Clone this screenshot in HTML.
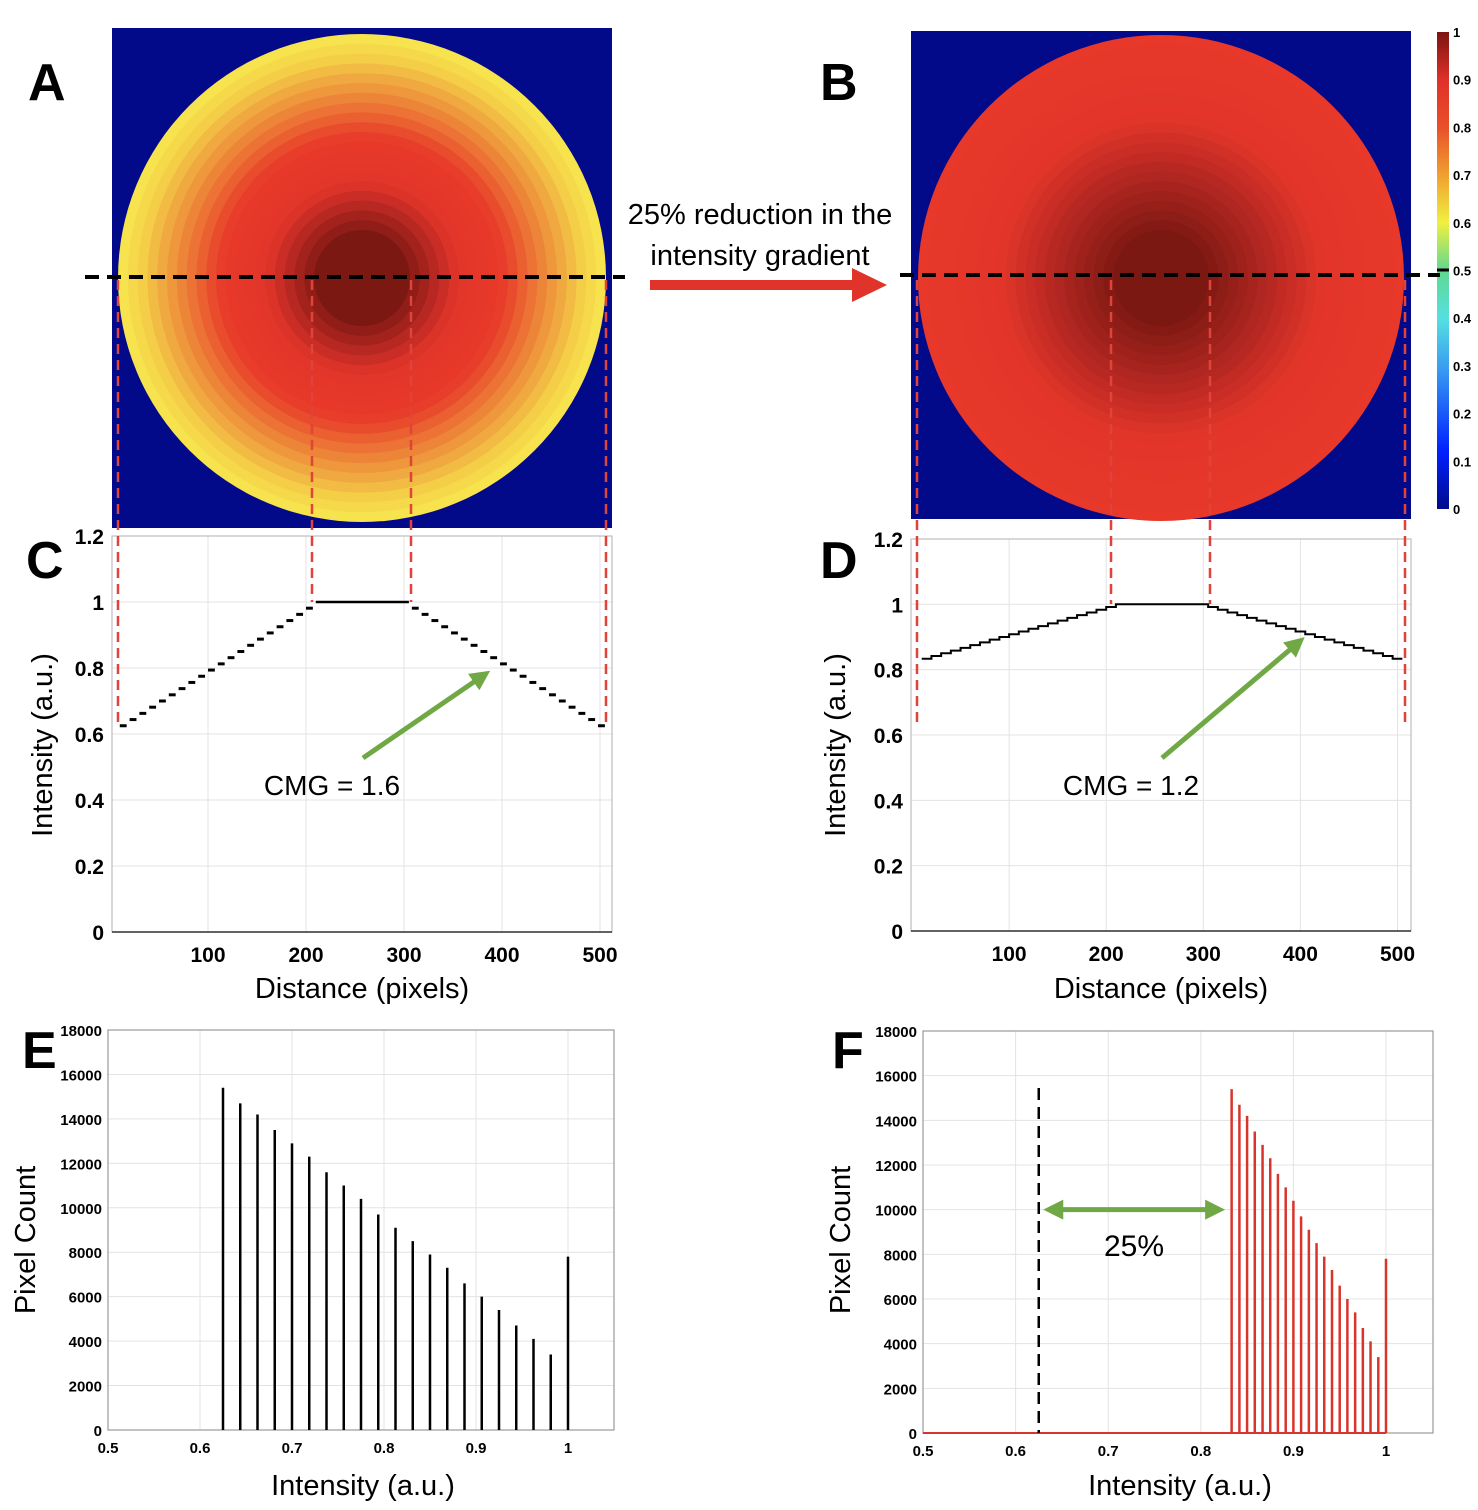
<!DOCTYPE html>
<html><head><meta charset="utf-8"><style>
html,body{margin:0;padding:0;background:#fff;}
svg{display:block;font-family:"Liberation Sans",sans-serif;}
</style></head><body>
<svg id="fig" width="1478" height="1510" viewBox="0 0 1478 1510" xmlns="http://www.w3.org/2000/svg">
<defs>
<linearGradient id="jet" x1="0" y1="1" x2="0" y2="0">
<stop offset="0" stop-color="#000a8a"/><stop offset="0.12" stop-color="#0020ff"/><stop offset="0.3" stop-color="#3aa0f0"/><stop offset="0.4" stop-color="#55e0e0"/><stop offset="0.5" stop-color="#60d890"/><stop offset="0.6" stop-color="#f0f040"/><stop offset="0.7" stop-color="#f0a030"/><stop offset="0.8" stop-color="#e8502a"/><stop offset="0.9" stop-color="#e0302a"/><stop offset="1" stop-color="#7c1410"/>
</linearGradient>
<marker id="garrow" markerWidth="4" markerHeight="4" refX="2.5" refY="2" orient="auto" markerUnits="strokeWidth"><path d="M0,0 L4,2 L0,4 Z" fill="#70a845"/></marker>
<marker id="garrowS" markerWidth="4" markerHeight="4" refX="1.5" refY="2" orient="auto" markerUnits="strokeWidth"><path d="M4,0 L0,2 L4,4 Z" fill="#70a845"/></marker>
</defs>
</svg>
<script>
// ---- data ----
const cLevels = [0.625,0.64375,0.6625,0.68125,0.7,0.71875,0.7375,0.75625,0.775,0.79375,0.8125,0.83125,0.85,0.86875,0.8875,0.90625,0.925,0.94375,0.9625,0.98125,1.0];
const dLevels = [0.8333,0.8417,0.85,0.8583,0.8667,0.875,0.8833,0.8917,0.9,0.9083,0.9167,0.925,0.9333,0.9417,0.95,0.9583,0.9667,0.975,0.9833,0.9917,1.0];
const eIntensity = [0.625,0.64375,0.6625,0.68125,0.7,0.71875,0.7375,0.75625,0.775,0.79375,0.8125,0.83125,0.85,0.86875,0.8875,0.90625,0.925,0.94375,0.9625,0.98125,1.0];
const fIntensity = [0.8333,0.8417,0.85,0.8583,0.8667,0.875,0.8833,0.8917,0.9,0.9083,0.9167,0.925,0.9333,0.9417,0.95,0.9583,0.9667,0.975,0.9833,0.9917,1.0];
const pixelCounts = [15400,14700,14200,13500,12900,12300,11600,11000,10400,9700,9100,8500,7900,7300,6600,6000,5400,4700,4100,3400,7800];
const profileYTicks = [0,0.2,0.4,0.6,0.8,1,1.2];
const profileYTickLabels = ["0","0.2","0.4","0.6","0.8","1","1.2"];
const profileXTicks = [100,200,300,400,500];
const histXTicks = [0.5,0.6,0.7,0.8,0.9,1];
const histXTickLabels = ["0.5","0.6","0.7","0.8","0.9","1"];
const histYTicks = [0,2000,4000,6000,8000,10000,12000,14000,16000,18000];
const colorbarTicks = [0,0.1,0.2,0.3,0.4,0.5,0.6,0.7,0.8,0.9,1];
const profileRise = [10,210]; const profileFall = [305,505];
const fReferenceIntensity = 0.625;

const svg = document.getElementById('fig');
const NS = 'http://www.w3.org/2000/svg';
function mk(tag, attrs, name, parent){
  const el = document.createElementNS(NS, tag);
  for (const k in attrs) el.setAttribute(k, attrs[k]);
  
  
  (parent || svg).appendChild(el);
  return el;
}
function txt(x,y,s,size,name,opts){
  opts = opts||{};
  const el = mk('text',{x:x,y:y,'font-size':size,'text-anchor':opts.anchor||'start','font-weight':opts.bold?'bold':'normal',fill:opts.fill||'#000'},name);
  if (opts.rot) el.setAttribute('transform','rotate(-90 '+x+' '+y+')');
  el.textContent = s;
  return el;
}
const cmapStops = [[0.6,[248,240,80]],[0.66,[245,208,72]],[0.7,[240,168,64]],[0.75,[236,122,54]],[0.8,[232,69,44]],[0.82,[232,57,42]],[0.9,[226,53,42]],[0.95,[176,38,32]],[1.0,[124,24,18]]];
function cmap(v){
  for (let i=1;i<cmapStops.length;i++){
    if (v<=cmapStops[i][0]){
      const a=cmapStops[i-1], b=cmapStops[i], t=Math.max(0,(v-a[0])/(b[0]-a[0]));
      return 'rgb('+a[1].map((c,j)=>Math.round(c+(b[1][j]-c)*t)).join(',')+')';
    }
  }
  return 'rgb(124,24,18)';
}

// ---- images A & B ----
function image(x0,y0,w,h,cx,cy,R,rin,levels,name){
  const g = mk('g',{},name);
  mk('rect',{x:x0,y:y0,width:w,height:h,fill:'#020a8a'},name+'-background',g);
  const n = levels.length-1;
  levels.forEach((v,k)=>{
    const r = R - k*(R-rin)/n;
    mk('circle',{cx:cx,cy:cy,r:r,fill:cmap(v)},name+'-ring',g);
  });
}
image(112,28,500,500,362,278,244,48,cLevels,'image-a');
image(911,31,500,488,1161,278,243,48,dLevels,'image-b');

// colorbar
mk('rect',{x:1437,y:32,width:12,height:477,fill:'url(#jet)'},'colorbar');
mk('line',{x1:1437,y1:270,x2:1449,y2:270,stroke:'#000','stroke-width':3},'colorbar-marker');
colorbarTicks.forEach(t=>{
  const y = 509 - t*477;
  txt(1453,y+5,String(t),13,'colorbar-tick-label',{bold:true});
});

// ---- profile axes ----
function profile(p){
  const X = v => p.x0 + v*p.xs, Y = v => p.y0 - v*p.ys;
  const g = mk('g',{},p.name);
  profileXTicks.forEach(t=>mk('line',{x1:X(t),y1:p.top,x2:X(t),y2:p.y0,stroke:'#e3e3e3','stroke-width':1},'x-gridline',g));
  profileYTicks.forEach(t=>mk('line',{x1:p.left,y1:Y(t),x2:p.right,y2:Y(t),stroke:'#e3e3e3','stroke-width':1},'y-gridline',g));
  mk('rect',{x:p.left,y:p.top,width:p.right-p.left,height:p.y0-p.top,fill:'none',stroke:'#bdbdbd','stroke-width':1.2},'axes-box',g);
  mk('line',{x1:p.left,y1:p.y0,x2:p.right,y2:p.y0,stroke:'#333','stroke-width':1.5},'x-axis',g);
  profileYTicks.forEach((t,i)=>txt(p.left-8,Y(t)+8,profileYTickLabels[i],21,'y-tick-label',{bold:true,anchor:'end'}));
  profileXTicks.forEach(t=>txt(X(t),p.y0+30,String(t),21,'x-tick-label',{bold:true,anchor:'middle'}));
  const lv = p.levels, n = lv.length-1;
  const stepW = (profileRise[1]-profileRise[0])/n;
  if (p.dashed){
    for (let k=0;k<n;k++){
      const xa = profileRise[0]+k*stepW;
      mk('line',{x1:X(xa),y1:Y(lv[k]),x2:X(xa+stepW*0.7),y2:Y(lv[k]),stroke:'#000','stroke-width':3},'profile-step',g);
      const xb = profileFall[1]-k*stepW;
      mk('line',{x1:X(xb-stepW*0.7),y1:Y(lv[k]),x2:X(xb),y2:Y(lv[k]),stroke:'#000','stroke-width':3},'profile-step',g);
    }
    mk('line',{x1:X(profileRise[1]),y1:Y(lv[n]),x2:X(profileFall[0]),y2:Y(lv[n]),stroke:'#000','stroke-width':2.5},'profile-plateau',g);
  } else {
    let d = '';
    for (let k=0;k<n;k++){ const xa=profileRise[0]+k*stepW; d += (k?'L':'M')+X(xa)+','+Y(lv[k])+' L'+X(xa+stepW)+','+Y(lv[k])+' '; }
    d += 'L'+X(profileRise[1])+','+Y(lv[n])+' L'+X(profileFall[0])+','+Y(lv[n])+' ';
    for (let k=n-1;k>=0;k--){ const xb=profileFall[1]-(k+1)*stepW; d += 'L'+X(xb)+','+Y(lv[k])+' L'+X(xb+stepW)+','+Y(lv[k])+' '; }
    mk('path',{d:d,fill:'none',stroke:'#000','stroke-width':2},'profile-line',g);
  }
}
profile({name:'profile-c',x0:110,xs:0.98,y0:932,ys:330,left:112,right:612,top:536,levels:cLevels,dashed:true});
profile({name:'profile-d',x0:912,xs:0.971,y0:931,ys:326.7,left:911,right:1411,top:539,levels:dLevels,dashed:false});

// ---- histograms ----
function hist(p){
  const X = v => p.x0 + (v-0.5)*p.xs, Y = c => p.y0 - c*p.ys/18000;
  const g = mk('g',{},p.name);
  histXTicks.forEach(t=>mk('line',{x1:X(t),y1:p.top,x2:X(t),y2:p.y0,stroke:'#e3e3e3','stroke-width':1},'x-gridline',g));
  histYTicks.forEach(t=>mk('line',{x1:p.left,y1:Y(t),x2:p.right,y2:Y(t),stroke:'#e3e3e3','stroke-width':1},'y-gridline',g));
  mk('rect',{x:p.left,y:p.top,width:p.right-p.left,height:p.y0-p.top,fill:'none',stroke:'#9a9a9a','stroke-width':1.2},'axes-box',g);
  histYTicks.forEach(t=>txt(p.left-6,Y(t)+6,String(t),15,'y-tick-label',{bold:true,anchor:'end'}));
  histXTicks.forEach((t,i)=>txt(X(t),p.y0+23,histXTickLabels[i],15,'x-tick-label',{bold:true,anchor:'middle'}));
  if (p.baseline) mk('line',{x1:p.left,y1:p.y0,x2:X(1),y2:p.y0,stroke:p.color,'stroke-width':2},'histogram-baseline',g);
  p.xs_data.forEach((v,i)=>mk('line',{x1:X(v),y1:p.y0,x2:X(v),y2:Y(pixelCounts[i]),stroke:p.color,'stroke-width':2.5},'histogram-bar',g));
  return {X:X,Y:Y};
}
hist({name:'histogram-e',x0:108,xs:920,y0:1430,ys:400,left:108,right:614,top:1030,color:'#000',xs_data:eIntensity});
const hf = hist({name:'histogram-f',x0:923,xs:926,y0:1433,ys:402,left:923,right:1433,top:1031,color:'#d8342c',xs_data:fIntensity,baseline:true});
mk('line',{x1:hf.X(fReferenceIntensity),y1:1088,x2:hf.X(fReferenceIntensity),y2:1433,stroke:'#000','stroke-width':2.5,'stroke-dasharray':'12 7'},'reference-dashed-line');
mk('line',{x1:hf.X(fReferenceIntensity)+12,y1:hf.Y(10000),x2:hf.X(fIntensity[0])-14,y2:hf.Y(10000),stroke:'#70a845','stroke-width':5,'marker-end':'url(#garrow)','marker-start':'url(#garrowS)'},'shift-arrow');
txt(1134,1256,'25%',30,'shift-label',{anchor:'middle'});

// ---- overlays ----
mk('line',{x1:85,y1:277,x2:625,y2:277,stroke:'#000','stroke-width':4,'stroke-dasharray':'14 8'},'profile-line-a');
mk('line',{x1:900,y1:275,x2:1440,y2:275,stroke:'#000','stroke-width':4,'stroke-dasharray':'14 8'},'profile-line-b');
[[118,728],[312,602],[411,602],[606,728],[917,728],[1111,604],[1210,604],[1405,728]].forEach(v=>{
  mk('line',{x1:v[0],y1:280,x2:v[0],y2:v[1],stroke:'#e0433a','stroke-width':2.5,'stroke-dasharray':'10 6'},'guide-line');
});
mk('line',{x1:363,y1:758,x2:484,y2:675,stroke:'#70a845','stroke-width':5,'marker-end':'url(#garrow)'},'cmg-arrow-c');
mk('line',{x1:1162,y1:758,x2:1299,y2:642,stroke:'#70a845','stroke-width':5,'marker-end':'url(#garrow)'},'cmg-arrow-d');
txt(332,795,'CMG = 1.6',28,'cmg-label-c',{anchor:'middle'});
txt(1131,795,'CMG = 1.2',28,'cmg-label-d',{anchor:'middle'});
// red arrow
mk('rect',{x:650,y:280,width:205,height:10,fill:'#e0332a'},'reduction-arrow-shaft');
mk('path',{d:'M852,268 L887,285 L852,302 Z',fill:'#e0332a'},'reduction-arrow-head');
txt(760,224,'25% reduction in the',29,'reduction-text-1',{anchor:'middle'});
txt(760,265,'intensity gradient',29,'reduction-text-2',{anchor:'middle'});
// axis titles
txt(52,745,'Intensity (a.u.)',29,'y-axis-title-c',{anchor:'middle',rot:true});
txt(845,745,'Intensity (a.u.)',29,'y-axis-title-d',{anchor:'middle',rot:true});
txt(362,998,'Distance (pixels)',29,'x-axis-title-c',{anchor:'middle'});
txt(1161,998,'Distance (pixels)',29,'x-axis-title-d',{anchor:'middle'});
txt(35,1240,'Pixel Count',29,'y-axis-title-e',{anchor:'middle',rot:true});
txt(850,1240,'Pixel Count',29,'y-axis-title-f',{anchor:'middle',rot:true});
txt(363,1495,'Intensity (a.u.)',29,'x-axis-title-e',{anchor:'middle'});
txt(1180,1495,'Intensity (a.u.)',29,'x-axis-title-f',{anchor:'middle'});
// panel letters
[['A',28,100],['B',820,100],['C',26,578],['D',820,578],['E',22,1068],['F',832,1068]].forEach(l=>{
  txt(l[1],l[2],l[0],52,'panel-label-'+l[0].toLowerCase(),{bold:true});
});
</script>
</body></html>
